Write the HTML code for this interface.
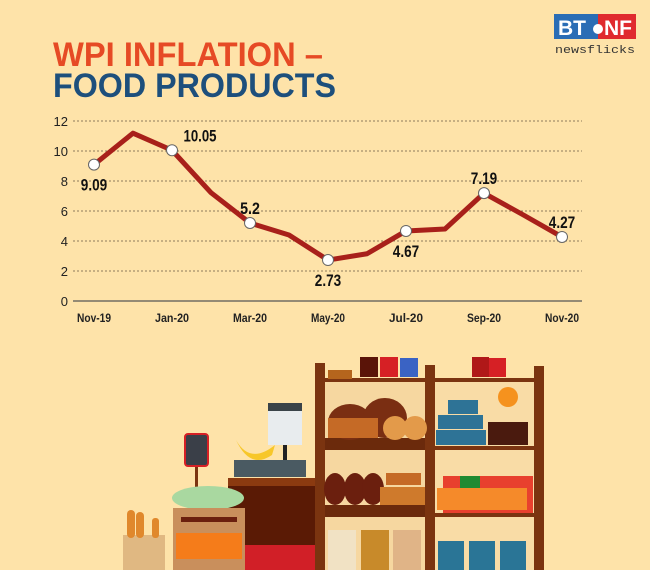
<!DOCTYPE html>
<html><head><meta charset="utf-8"><style>
html,body{margin:0;padding:0;background:#fee3a9;}
svg{display:block;font-family:"Liberation Sans",sans-serif;}
</style></head><body>
<svg id="c" width="650" height="570" viewBox="0 0 650 570">
<rect width="650" height="570" fill="#fee3a9"/>
<text x="53" y="66" font-size="34" font-weight="bold" fill="#e64a25" textLength="270" lengthAdjust="spacingAndGlyphs">WPI INFLATION –</text>
<text x="53" y="97" font-size="34" font-weight="bold" fill="#1d4f7c" textLength="283" lengthAdjust="spacingAndGlyphs">FOOD PRODUCTS</text>
<g>
<rect x="554" y="14" width="44" height="25" fill="#2a6db5"/>
<rect x="598" y="14" width="38" height="25" fill="#e02a2e"/>
<text x="558" y="35" font-size="21" font-weight="bold" fill="#fff">BT</text>
<circle cx="598" cy="29" r="5" fill="#fff"/>
<text x="604" y="35" font-size="21" font-weight="bold" fill="#fff">NF</text>
<text x="555" y="53" font-size="11" fill="#333" font-family="Liberation Mono,monospace" textLength="80" lengthAdjust="spacingAndGlyphs">newsflicks</text>
</g>
<g id="grid"></g><g id="axes"></g><g id="series"></g>
<g>
<rect x="320" y="378" width="110" height="192" fill="#f6d7a0"/>
<rect x="430" y="378" width="110" height="192" fill="#f9dca6"/>
<rect x="315" y="363" width="10" height="207" fill="#7b3410"/>
<rect x="425" y="365" width="10" height="205" fill="#7b3410"/>
<rect x="534" y="366" width="10" height="204" fill="#7b3410"/>
<rect x="325" y="378" width="209" height="4" fill="#7b3410"/>
<rect x="325" y="438" width="100" height="12" fill="#6b2a0c"/>
<rect x="325" y="505" width="100" height="12" fill="#6b2a0c"/>
<rect x="435" y="446" width="99" height="4" fill="#7b3410"/>
<rect x="435" y="513" width="99" height="4" fill="#7b3410"/>
<rect x="360" y="357" width="18" height="20" fill="#5a1408"/><rect x="380" y="357" width="18" height="20" fill="#d62025"/><rect x="400" y="358" width="18" height="19" fill="#3a63c4"/>
<rect x="328" y="370" width="24" height="9" fill="#b5651d"/>
<rect x="472" y="357" width="17" height="20" fill="#b01818"/><rect x="489" y="358" width="17" height="19" fill="#d62025"/>
<circle cx="508" cy="397" r="10" fill="#f5921e"/>
<ellipse cx="350" cy="422" rx="22" ry="18" fill="#7a2e12"/><ellipse cx="385" cy="418" rx="22" ry="20" fill="#7a2e12"/>
<rect x="328" y="418" width="50" height="20" fill="#c56a26"/>
<ellipse cx="395" cy="428" rx="12" ry="12" fill="#e39a4a"/><ellipse cx="415" cy="428" rx="12" ry="12" fill="#e39a4a"/>
<ellipse cx="335" cy="489" rx="11" ry="16" fill="#6b1f0e"/><ellipse cx="355" cy="489" rx="11" ry="16" fill="#6b1f0e"/><ellipse cx="373" cy="489" rx="11" ry="16" fill="#6b1f0e"/>
<rect x="380" y="487" width="45" height="18" fill="#cf7a2c"/><rect x="386" y="473" width="35" height="12" fill="#c56a26"/>
<rect x="328" y="530" width="28" height="40" fill="#f1e2c4"/><rect x="361" y="530" width="28" height="40" fill="#c88a2a"/><rect x="393" y="530" width="28" height="40" fill="#e0b487"/>
<rect x="448" y="400" width="30" height="14" fill="#2e7396"/><rect x="438" y="415" width="45" height="14" fill="#2e7396"/><rect x="436" y="430" width="50" height="15" fill="#2e7396"/>
<rect x="488" y="422" width="40" height="23" fill="#4a1a0e"/>
<rect x="443" y="476" width="90" height="37" fill="#e8402e"/><rect x="460" y="476" width="20" height="20" fill="#1f8a32"/><rect x="437" y="488" width="90" height="22" fill="#f58a2a"/>
<rect x="438" y="541" width="26" height="29" fill="#2a7596"/><rect x="469" y="541" width="26" height="29" fill="#2a7596"/><rect x="500" y="541" width="26" height="29" fill="#2a7596"/>
<rect x="228" y="478" width="87" height="92" fill="#5a1a05"/><rect x="228" y="478" width="87" height="8" fill="#8b3a10"/>
<rect x="234" y="460" width="72" height="17" fill="#4a5a62"/>
<rect x="268" y="403" width="34" height="42" fill="#e8ecee"/><rect x="268" y="403" width="34" height="8" fill="#3a4348"/><rect x="283" y="445" width="4" height="15" fill="#222"/>
<path d="M236 440 Q250 465 275 445 L272 455 Q250 470 236 440Z" fill="#f7c72a"/>
<rect x="195" y="465" width="3" height="25" fill="#7b3410"/>
<rect x="185" y="434" width="23" height="32" rx="3" fill="#3a3f48" stroke="#d62025" stroke-width="2"/>
<ellipse cx="208" cy="498" rx="36" ry="12" fill="#a9d8a0"/>
<rect x="173" y="508" width="72" height="62" fill="#c98f5c"/>
<rect x="181" y="517" width="56" height="5" fill="#6b1f0e"/>
<rect x="176" y="533" width="66" height="26" fill="#f57c1a"/>
<rect x="245" y="545" width="70" height="25" fill="#d11f27"/>
<rect x="123" y="535" width="42" height="35" fill="#e0b882"/>
<rect x="127" y="510" width="8" height="28" rx="4" fill="#e0882c"/><rect x="136" y="512" width="8" height="26" rx="4" fill="#e0882c"/><rect x="152" y="518" width="7" height="20" rx="3" fill="#e0882c"/>
</g>
<script>
var categories=["Nov-19","Dec-19","Jan-20","Feb-20","Mar-20","Apr-20","May-20","Jun-20","Jul-20","Aug-20","Sep-20","Oct-20","Nov-20"];
var values=[9.09,11.19,10.05,7.22,5.2,4.4,2.73,3.15,4.67,4.8,7.19,5.75,4.27];
var labelIdx=[0,2,4,6,8,10,12];
var labelText=["9.09","10.05","5.2","2.73","4.67","7.19","4.27"];
var labelBelow=[true,false,false,true,true,false,false];
var yTicks=[0,2,4,6,8,10,12];
var xTickIdx=[0,2,4,6,8,10,12];
var NS="http://www.w3.org/2000/svg";
function xs(i){return 94+i*(562-94)/(categories.length-1);}
function ys(v){return 301-v*15;}
function mk(t,a,p){var e=document.createElementNS(NS,t);for(var k in a)e.setAttribute(k,a[k]);p.appendChild(e);return e;}
var g=document.getElementById('grid'),ax=document.getElementById('axes'),s=document.getElementById('series');
yTicks.forEach(function(v){
 if(v>0){var l=mk('line',{x1:73,x2:582,y1:ys(v),y2:ys(v),stroke:'#6a5a40','stroke-width':0.8,'stroke-dasharray':'2,2'},g);
 
 }
 var t=mk('text',{x:68,y:ys(v)+5,'font-size':13,fill:'#222','text-anchor':'end'},ax);t.textContent=v;
 
 
});
var base=mk('line',{x1:73,x2:582,y1:ys(0),y2:ys(0),stroke:'#555','stroke-width':1.2},ax);


xTickIdx.forEach(function(i){
 var t=mk('text',{x:xs(i),y:322,'font-size':11.5,'font-weight':'bold',fill:'#222','text-anchor':'middle',textLength:34,lengthAdjust:'spacingAndGlyphs'},ax);t.textContent=categories[i];
 
 
});
var pts=values.map(function(v,i){return xs(i)+','+ys(v);}).join(' ');
var pl=mk('polyline',{points:pts,fill:'none',stroke:'#a8201a','stroke-width':5,'stroke-linejoin':'round'},s);


labelIdx.forEach(function(i,k){
 var c=mk('circle',{cx:xs(i),cy:ys(values[i]),r:5.5,fill:'#fff',stroke:'#666','stroke-width':1},s);
 
 
 var ty=labelBelow[k]?ys(values[i])+26:ys(values[i])-9;
 var t=mk('text',{x:xs(i)+(k==1?28:0),y:ty,'font-size':17,'font-weight':'bold',fill:'#111','text-anchor':'middle',textLength:labelText[k].length*6.6,lengthAdjust:'spacingAndGlyphs'},s);
 t.textContent=labelText[k];
 
 
});
</script>
</svg>
</body></html>
